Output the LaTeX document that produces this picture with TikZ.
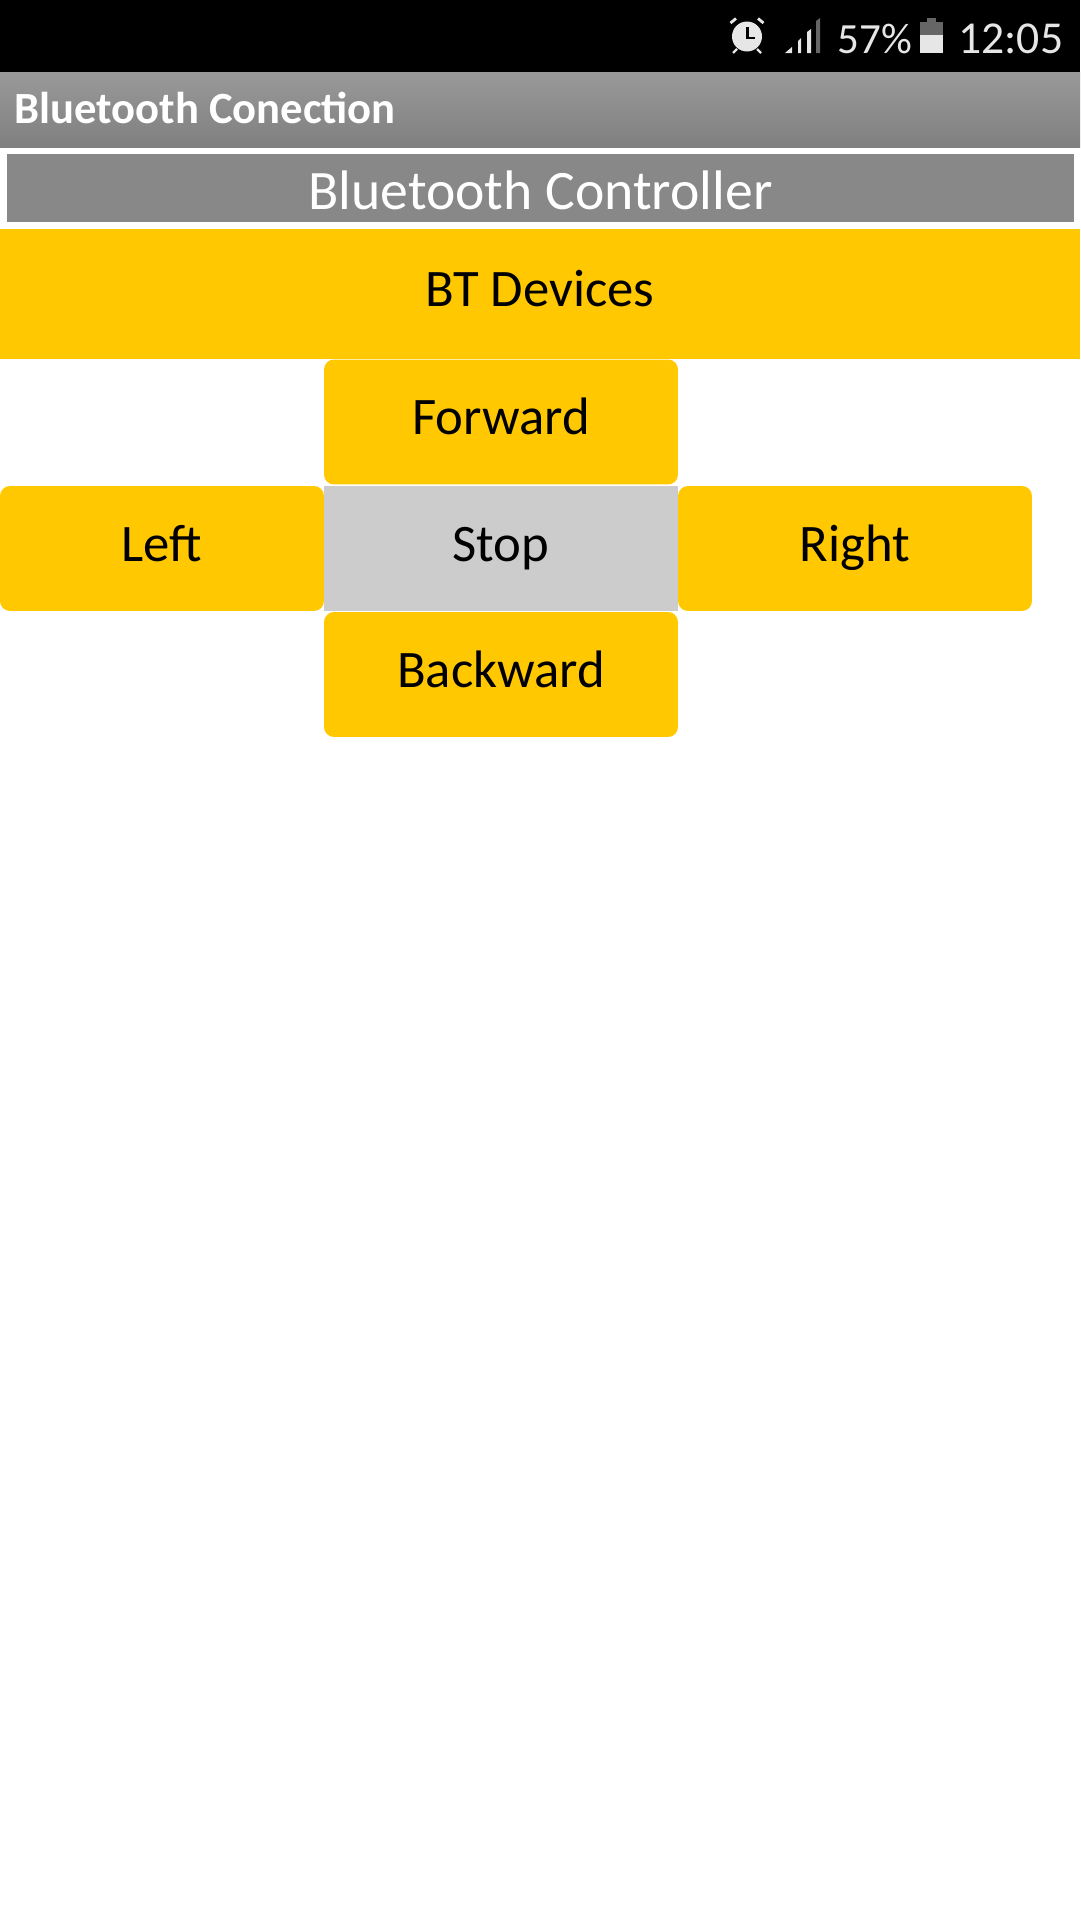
\documentclass[tikz,border=0pt]{standalone}
\usepackage{fontspec}
\setmainfont{Carlito}
\definecolor{btnyellow}{HTML}{FFC800}
\definecolor{stopgray}{HTML}{CCCCCC}
\definecolor{headgray}{HTML}{888888}
\definecolor{iconlight}{HTML}{E6E6E6}
\definecolor{icondark}{HTML}{666666}
\tikzset{
	btntext/.style={font=\fontsize{30}{33}\selectfont, text=black, inner sep=0pt, text height=23pt, text depth=8.3pt},
	btnbox/.style={btntext, fill=btnyellow, rounded corners=0.2cm, minimum height=2.5cm, minimum width=7.08cm},
	stattext/.style={font=\fontsize{26}{29}\selectfont, text=iconlight, inner sep=0pt, anchor=base west},
}
\begin{document}
\begin{tikzpicture}[x=0.02cm, y=-0.02cm]
	\useasboundingbox (0,0) rectangle (1080,1920);
	\fill[white] (0,0) rectangle (1080,1920);
	% Barras
		\fill[black] (0,0) rectangle (1080,72);
		\shade[top color=black!40, bottom color=black!50] (0,72) rectangle (1080,147);
		\node[anchor=base west, inner sep=0pt, text=white, font=\bfseries\fontsize{25.4}{28}\selectfont] (titletext) at (14,123) {Bluetooth Conection};
		\node[fill=headgray, text=white, inner sep=0pt, minimum width=21.34cm, minimum height=1.36cm, font=\fontsize{31.7}{35}\selectfont, text height=31.5pt, text depth=7pt] (header) at (540.5,188) {Bluetooth Controller};
	% Botones
		\node[btntext, fill=btnyellow, minimum width=21.6cm, minimum height=2.6cm] (devices) at (540,294) {BT Devices};
		\node[btnbox] (forward) at (501,422) {Forward};
		\node[btnbox, minimum width=6.48cm] (left) at (162,548.5) {Left};
		\node[btntext, fill=stopgray, minimum height=2.5cm, minimum width=7.08cm] (stop) at (501,548.5) {Stop};
		\node[btnbox] (right) at (855,548.5) {Right};
		\node[btnbox] (backward) at (501,674.5) {Backward};
	% Reloj
		\fill[iconlight] (747,36.5) circle[radius=15];
		\draw[iconlight, line width=1.6pt] (730.5,23) -- (736,18.5);
		\draw[iconlight, line width=1.6pt] (763.5,23) -- (758,18.5);
		\draw[iconlight, line width=1.3pt] (737,49) -- (733,53);
		\draw[iconlight, line width=1.3pt] (757,49) -- (761,53);
		\draw[black, line width=1.5pt] (747.5,27) -- (747.5,38) -- (755,38);
	% Senal
		\fill[iconlight] (785,53) -- (792,47) -- (792,53) -- cycle;
		\fill[iconlight] (798,41) -- (801,38) -- (801,53) -- (798,53) -- cycle;
		\fill[iconlight] (807,32) -- (811,29) -- (811,53) -- (807,53) -- cycle;
		\fill[icondark] (816,21) -- (820,18) -- (820,53) -- (816,53) -- cycle;
	% Bateria
		\fill[icondark] (927,18) rectangle (936,22);
		\fill[icondark] (920,22) rectangle (943,35);
		\fill[iconlight] (920,35) rectangle (943,53);
	% Textos de estado
		\node[stattext, font=\fontsize{24.5}{27}\selectfont] (level) at (837,53) {57\%};
		\node[stattext] (clock) at (958,53) {12:05};
\end{tikzpicture}
\end{document}
